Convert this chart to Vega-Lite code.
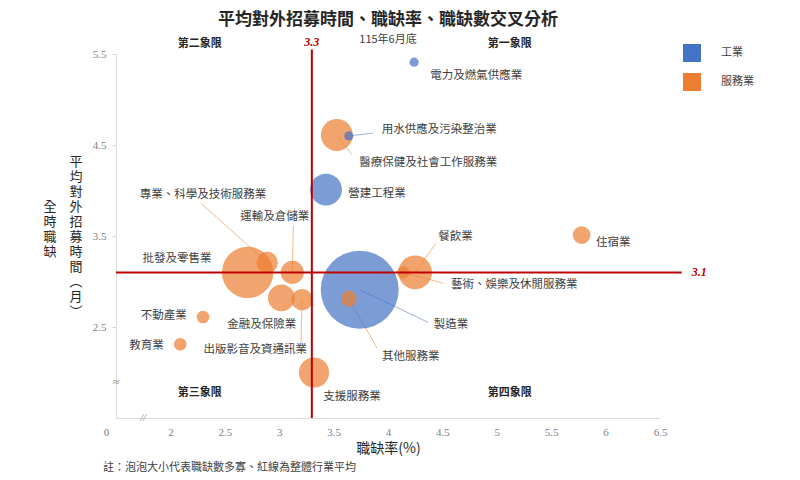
{
  "$schema": "https://vega.github.io/schema/vega-lite/v6.json",
  "autosize": {"type": "none"},
  "width": 544,
  "height": 364,
  "padding": {"left": 116, "top": 54, "right": 140, "bottom": 62},
  "background": "white",
  "title": {
    "text": "平均對外招募時間、職缺率、職缺數交叉分析",
    "subtitle": "115年6月底",
    "anchor": "middle",
    "frame": "group",
    "font": "Noto Sans CJK TC",
    "fontSize": 17,
    "fontWeight": "bold",
    "color": "#262626",
    "subtitleFont": "Noto Sans CJK TC",
    "subtitleFontSize": 11,
    "subtitleColor": "#404040",
    "subtitlePadding": 5,
    "offset": -10
  },
  "config": {
    "view": {"stroke": null},
    "axis": {
      "grid": false,
      "domainColor": "#D9D9D9",
      "tickColor": "#D9D9D9",
      "labelFont": "Liberation Serif",
      "labelFontSize": 11,
      "labelColor": "#7F7F7F"
    },
    "text": {"font": "Noto Sans CJK TC"}
  },
  "datasets": {
    "industries": [
      {"行業": "電力及燃氣供應業", "類別": "工業", "職缺率": 4.24, "招募時間": 5.41, "職缺數": 800, "標籤X": 4.81, "標籤Y": 5.26},
      {"行業": "用水供應及污染整治業", "類別": "工業", "職缺率": 3.64, "招募時間": 4.6, "職缺數": 800, "標籤X": 4.47, "標籤Y": 4.66, "引線X": 3.86, "引線Y": 4.63},
      {"行業": "營建工程業", "類別": "工業", "職缺率": 3.43, "招募時間": 4.01, "職缺數": 9700, "標籤X": 3.9, "標籤Y": 3.96},
      {"行業": "製造業", "類別": "工業", "職缺率": 3.74, "招募時間": 2.91, "職缺數": 58000, "標籤X": 4.58, "標籤Y": 2.52, "引線X": 4.37, "引線Y": 2.55},
      {"行業": "醫療保健及社會工作服務業", "類別": "服務業", "職缺率": 3.53, "招募時間": 4.61, "職缺數": 9700, "標籤X": 4.37, "標籤Y": 4.3, "引線X": 3.67, "引線Y": 4.39},
      {"行業": "其他服務業", "類別": "服務業", "職缺率": 3.64, "招募時間": 2.81, "職缺數": 2400, "標籤X": 4.21, "標籤Y": 2.17, "引線X": 3.9, "引線Y": 2.27},
      {"行業": "餐飲業", "類別": "服務業", "職缺率": 4.25, "招募時間": 3.1, "職缺數": 10800, "標籤X": 4.62, "標籤Y": 3.49, "引線X": 4.44, "引線Y": 3.42},
      {"行業": "藝術、娛樂及休閒服務業", "類別": "服務業", "職缺率": 4.14, "招募時間": 3.1, "職缺數": 1500, "標籤X": 5.16, "標籤Y": 2.96, "引線X": 4.51, "引線Y": 2.98},
      {"行業": "住宿業", "類別": "服務業", "職缺率": 5.78, "招募時間": 3.51, "職缺數": 3000, "標籤X": 6.07, "標籤Y": 3.42},
      {"行業": "支援服務業", "類別": "服務業", "職缺率": 3.32, "招募時間": 2.0, "職缺數": 8700, "標籤X": 3.67, "標籤Y": 1.73},
      {"行業": "批發及零售業", "類別": "服務業", "職缺率": 2.71, "招募時間": 3.1, "職缺數": 25200, "標籤X": 2.06, "標籤Y": 3.25},
      {"行業": "專業、科學及技術服務業", "類別": "服務業", "職缺率": 2.89, "招募時間": 3.21, "職缺數": 4300, "標籤X": 2.3, "標籤Y": 3.95, "引線X": 2.28, "引線Y": 3.86},
      {"行業": "運輸及倉儲業", "類別": "服務業", "職缺率": 3.12, "招募時間": 3.1, "職缺數": 5100, "標籤X": 2.96, "標籤Y": 3.71, "引線X": 3.13, "引線Y": 3.62},
      {"行業": "金融及保險業", "類別": "服務業", "職缺率": 3.02, "招募時間": 2.82, "職缺數": 6800, "標籤X": 2.84, "標籤Y": 2.52},
      {"行業": "出版影音及資通訊業", "類別": "服務業", "職缺率": 3.21, "招募時間": 2.8, "職缺數": 4300, "標籤X": 2.78, "標籤Y": 2.25, "引線X": 3.2, "引線Y": 2.32},
      {"行業": "不動產業", "類別": "服務業", "職缺率": 2.3, "招募時間": 2.61, "職缺數": 1500, "標籤X": 1.94, "標籤Y": 2.62},
      {"行業": "教育業", "類別": "服務業", "職缺率": 2.09, "招募時間": 2.31, "職缺數": 1500, "標籤X": 1.78, "標籤Y": 2.29}
    ],
    "avg": [{"平均職缺率": 3.3, "平均招募時間": 3.1}]
  },
  "layer": [
    {
      "data": {"name": "industries"},
      "transform": [{"filter": "isValid(datum['引線X'])"}],
      "mark": {"type": "rule", "strokeWidth": 1, "opacity": 0.9},
      "encoding": {
        "x": {
          "field": "職缺率", "type": "quantitative",
          "scale": {"domain": [1.5, 6.5], "nice": false, "zero": false},
          "axis": {
            "values": [1.5, 2, 2.5, 3, 3.5, 4, 4.5, 5, 5.5, 6, 6.5],
            "labelExpr": "datum.value == 1.5 ? '0' : format(datum.value, '.1~f')",
            "labelFlush": false,
            "labelOffset": {"condition": {"test": "datum.value == 1.5", "value": -10}, "value": 0},
            "ticks": false,
            "labelPadding": 8,
            "title": "職缺率(%)",
            "titleFont": "Noto Sans CJK TC",
            "titleFontSize": 14,
            "titleFontWeight": "normal",
            "titleColor": "#262626",
            "titlePadding": 4
          }
        },
        "y": {
          "field": "招募時間", "type": "quantitative",
          "scale": {"domain": [1.5, 5.5], "nice": false, "zero": false},
          "axis": {
            "values": [2.5, 3.5, 4.5, 5.5],
            "labelExpr": "format(datum.value, '.1f')",
            "tickSize": 4,
            "labelPadding": 6,
            "title": ["平", "均", "對", "全　外", "時　招", "職　募", "缺　時", "間", "︵", "月", "︶"],
            "titleAngle": 0,
            "titleX": -34,
            "titleY": 107,
            "titleAlign": "right",
            "titleBaseline": "middle",
            "titleFont": "Noto Sans CJK TC",
            "titleFontSize": 13,
            "titleLineHeight": 15,
            "titleFontWeight": "normal",
            "titleColor": "#262626"
          }
        },
        "x2": {"field": "引線X"},
        "y2": {"field": "引線Y"},
        "stroke": {
          "condition": {"test": "datum['類別'] == '工業'", "value": "#8FAADC"},
          "value": "#F4B183"
        }
      }
    },
    {
      "data": {"name": "industries"},
      "mark": {"type": "circle", "opacity": 0.7},
      "encoding": {
        "x": {"field": "職缺率", "type": "quantitative"},
        "y": {"field": "招募時間", "type": "quantitative"},
        "size": {
          "field": "職缺數", "type": "quantitative",
          "scale": {"domain": [0, 60000], "range": [0, 6283]},
          "legend": null
        },
        "color": {
          "field": "類別", "type": "nominal",
          "scale": {"domain": ["工業", "服務業"], "range": ["#4472C4", "#ED7D31"]},
          "legend": {
            "title": null,
            "orient": "none",
            "legendX": 567,
            "legendY": -10,
            "symbolType": "square",
            "symbolSize": 324,
            "symbolOpacity": 1,
            "symbolStrokeWidth": 0,
            "labelFont": "Noto Sans CJK TC",
            "labelFontSize": 11,
            "labelColor": "#404040",
            "labelOffset": 20,
            "rowPadding": 11
          }
        },
        "order": {"field": "職缺數", "sort": "descending"}
      }
    },
    {
      "data": {"name": "avg"},
      "mark": {"type": "rule", "color": "#C00000", "strokeWidth": 2},
      "encoding": {
        "x": {"field": "平均職缺率", "type": "quantitative"},
        "y": {"datum": 1.5},
        "y2": {"datum": 5.55}
      }
    },
    {
      "data": {"name": "avg"},
      "mark": {"type": "rule", "color": "#C00000", "strokeWidth": 2},
      "encoding": {
        "y": {"field": "平均招募時間", "type": "quantitative"},
        "x": {"datum": 1.5},
        "x2": {"datum": 6.7}
      }
    },
    {
      "data": {"name": "avg"},
      "mark": {"type": "text", "color": "#C00000", "fontWeight": "bold", "fontStyle": "italic", "font": "Liberation Serif", "fontSize": 12},
      "encoding": {
        "x": {"field": "平均職缺率", "type": "quantitative"},
        "y": {"datum": 5.63},
        "text": {"field": "平均職缺率", "format": ".1f"}
      }
    },
    {
      "data": {"name": "avg"},
      "mark": {"type": "text", "color": "#C00000", "fontWeight": "bold", "fontStyle": "italic", "font": "Liberation Serif", "fontSize": 12},
      "encoding": {
        "y": {"field": "平均招募時間", "type": "quantitative"},
        "x": {"datum": 6.86},
        "text": {"field": "平均招募時間", "format": ".1f"}
      }
    },
    {
      "data": {"name": "industries"},
      "mark": {"type": "text", "fontSize": 11.5, "color": "#404040", "font": "Noto Sans CJK TC"},
      "encoding": {
        "x": {"field": "標籤X", "type": "quantitative"},
        "y": {"field": "標籤Y", "type": "quantitative"},
        "text": {"field": "行業"}
      }
    },
    {
      "data": {"values": [{}]},
      "mark": {"type": "text", "text": "第二象限", "fontSize": 11, "fontWeight": "bold", "color": "#262626"},
      "encoding": {"x": {"datum": 2.27}, "y": {"datum": 5.61}}
    },
    {
      "data": {"values": [{}]},
      "mark": {"type": "text", "text": "第一象限", "fontSize": 11, "fontWeight": "bold", "color": "#262626"},
      "encoding": {"x": {"datum": 5.12}, "y": {"datum": 5.61}}
    },
    {
      "data": {"values": [{}]},
      "mark": {"type": "text", "text": "第三象限", "fontSize": 11, "fontWeight": "bold", "color": "#262626"},
      "encoding": {"x": {"datum": 2.27}, "y": {"datum": 1.77}}
    },
    {
      "data": {"values": [{}]},
      "mark": {"type": "text", "text": "第四象限", "fontSize": 11, "fontWeight": "bold", "color": "#262626"},
      "encoding": {"x": {"datum": 5.12}, "y": {"datum": 1.77}}
    },
    {
      "data": {"values": [{}]},
      "mark": {"type": "text", "text": "≈", "fontSize": 12, "color": "#7F7F7F", "font": "Liberation Serif"},
      "encoding": {"x": {"datum": 1.5}, "y": {"datum": 1.9}}
    },
    {
      "data": {"values": [{}]},
      "mark": {"type": "text", "text": "//", "fontSize": 10, "fontStyle": "italic", "color": "#7F7F7F", "font": "Liberation Serif"},
      "encoding": {"x": {"datum": 1.75}, "y": {"datum": 1.5}}
    },
    {
      "data": {"values": [{}]},
      "mark": {"type": "text", "text": "註：泡泡大小代表職缺數多寡、紅線為整體行業平均", "fontSize": 11, "color": "#404040", "align": "left"},
      "encoding": {"x": {"datum": 1.38}, "y": {"datum": 0.95}}
    }
  ]
}
